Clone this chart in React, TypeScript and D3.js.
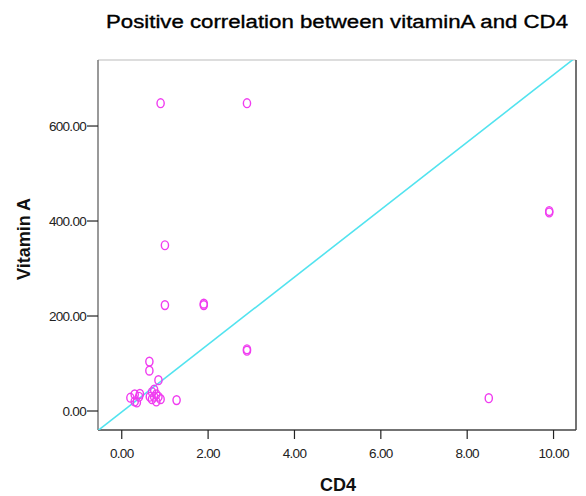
import * as d3 from 'd3'

const width = 586,
      height = 496,
      plot = { left: 98, right: 576, top: 60, bottom: 430 }

// CD4 (x) and vitamin A (y)
const cd4 = [
  0.9, 2.9, 1.0, 1.0, 1.9, 1.9, 2.9, 2.9, 9.9, 9.9, 8.5,
  0.64, 0.64, 0.85, 1.27,
  0.2, 0.3, 0.35, 0.4, 0.42, 0.3,
  0.7, 0.75, 0.7, 0.8, 0.85, 0.9, 0.75, 0.8, 0.65
]
const vitaminA = [
  648, 648, 349, 223, 223, 226, 130, 127, 418, 421, 27,
  104, 85, 65, 23,
  28, 35, 18, 30, 36, 20,
  40, 30, 25, 20, 30, 25, 45, 35, 30
]

const xTicks = [0, 2, 4, 6, 8, 10]
const yTicks = [0, 200, 400, 600]

// fit line: vitamin A = a + b * CD4
const fitIntercept = -2,
      fitSlope = 71

const x = d3.scaleLinear().domain([-0.55, 10.52]).range([plot.left, plot.right])
const y = d3.scaleLinear().domain([-40, 739]).range([plot.bottom, plot.top])

const font = '"Liberation Sans", Arial, sans-serif'

export default function App() {
  const points = cd4.map((c, i) => ({ c, v: vitaminA[i] }))
  const [x0, x1] = x.domain()
  const fit = d3.line<number>()
    .x(d => x(d))
    .y(d => y(fitIntercept + fitSlope * d))

  return (
    <svg width={width} height={height} style={{ position: 'absolute', left: 0, top: 0, background: '#fff' }}>
      <defs>
        <clipPath id='plot-area'>
          <rect x={plot.left} y={plot.top} width={plot.right - plot.left} height={plot.bottom - plot.top} />
        </clipPath>
      </defs>

      <text x={337} y={28} textAnchor='middle' fontFamily={font} fontSize={18} fill='#000'
        stroke='#000' strokeWidth={0.35} textLength={462} lengthAdjust='spacingAndGlyphs'>
        Positive correlation between vitaminA and CD4
      </text>

      {/* frame */}
      <line x1={plot.left} x2={plot.right} y1={plot.top} y2={plot.top} stroke='#bbb' strokeWidth={1} />
      <line x1={plot.left} x2={plot.left} y1={plot.top} y2={plot.bottom} stroke='#777' strokeWidth={1.5} />
      <line x1={plot.right} x2={plot.right} y1={plot.top} y2={plot.bottom} stroke='#444' strokeWidth={1.5} />
      <line x1={plot.left} x2={plot.right} y1={plot.bottom} y2={plot.bottom} stroke='#444' strokeWidth={1.5} />

      <g className='y-ticks'>
        {yTicks.map(t =>
          <g key={t} transform={`translate(0, ${y(t)})`}>
            <line x1={plot.left - 11} x2={plot.left} stroke='#222' strokeWidth={1.2} />
            <text x={plot.left - 12} dy='0.36em' textAnchor='end' fontFamily={font} fontSize={13.5}
              letterSpacing={-0.7} fill='#222'>{t.toFixed(2)}</text>
          </g>
        )}
      </g>

      <g className='x-ticks'>
        {xTicks.map(t =>
          <g key={t} transform={`translate(${x(t)}, 0)`}>
            <line y1={plot.bottom} y2={plot.bottom + 9} stroke='#222' strokeWidth={1.2} />
            <text y={458} textAnchor='middle' fontFamily={font} fontSize={13.5}
              letterSpacing={-0.7} fill='#222'>{t.toFixed(2)}</text>
          </g>
        )}
      </g>

      <text x={338} y={491} textAnchor='middle' fontFamily={font} fontSize={18} fontWeight='bold' fill='#111'>CD4</text>
      <text transform={`translate(30, 239) rotate(-90)`} textAnchor='middle' fontFamily={font} fontSize={18}
        fontWeight='bold' fill='#111'>Vitamin A</text>

      <g clipPath='url(#plot-area)'>
        <path d={fit([x0, x1]) || ''} fill='none' stroke='#52e3ef' strokeWidth={1.6} />
        {points.map((p, i) =>
          <ellipse key={i} cx={x(p.c)} cy={y(p.v)} rx={3.6} ry={4.4}
            fill='none' stroke='#f03cf0' strokeWidth={1.4} />
        )}
      </g>
    </svg>
  )
}
